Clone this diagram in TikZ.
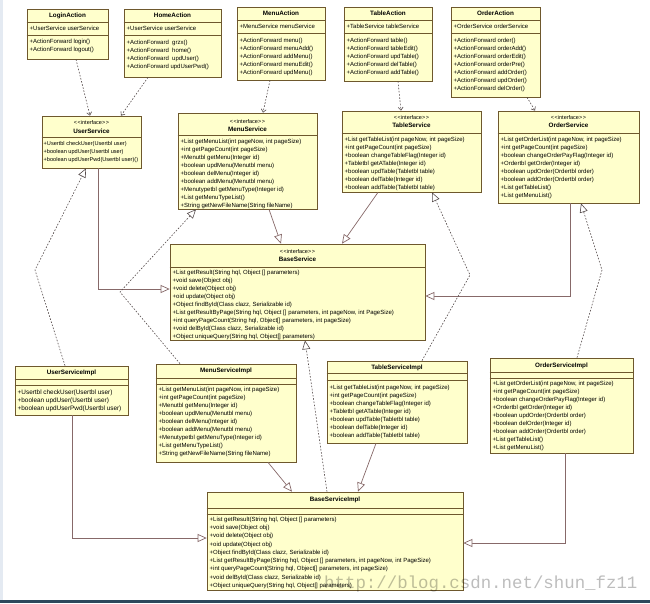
\documentclass[tikz,border=0pt]{standalone}
\usepackage{fontspec}
\setmainfont{Liberation Sans}
\newfontfamily\wmfont{Liberation Mono}
\usetikzlibrary{arrows.meta,fit,shadows}
\definecolor{boxfill}{RGB}{255,255,204}
\definecolor{boxline}{RGB}{110,88,45}
\definecolor{solidcol}{RGB}{135,105,105}
\definecolor{dashcol}{RGB}{85,75,75}
\definecolor{barcol}{RGB}{45,72,92}
\definecolor{stripcol}{RGB}{228,234,242}
\tikzset{
 clsbox/.style={draw=boxline, fill=boxfill, line width=0.7pt, inner sep=0pt,
   drop shadow={shadow xshift=1pt, shadow yshift=-1pt, fill=black!30, opacity=1}},
 sepline/.style={draw=boxline, line width=0.6pt},
 clstitle/.style={font=\fontsize{6.3}{7}\selectfont\bfseries, inner sep=0pt, anchor=center},
 stereo/.style={font=\fontsize{5.5}{6}\selectfont, inner sep=0pt, anchor=center},
 members/.style={font=\fontsize{6}{8}\selectfont, align=left, inner sep=0pt, anchor=north west},
 gen/.style={draw=solidcol, line width=0.7pt, -{Triangle[open, length=9pt, width=8pt, fill=white]}},
 real/.style={draw=dashcol, line width=0.6pt, dash pattern=on 1.6pt off 1.6pt, -{Triangle[open, length=9pt, width=8pt, fill=white]}},
 dep/.style={draw=dashcol, line width=0.6pt, dash pattern=on 1.6pt off 1.6pt, -{Straight Barb[length=3pt, width=5pt]}},
 watermark/.style={font=\wmfont\fontsize{17.4}{18}\selectfont, text=black, text opacity=0.26, inner sep=0pt, anchor=base west},
}
\newcommand{\stq}{<\kern0.6pt<interface>\kern0.6pt>}
\begin{document}
\begin{tikzpicture}[x=1pt, y=-1pt]
\useasboundingbox (0,0) rectangle (650,603);
\fill[white] (0,0) rectangle (650,603);
\fill[stripcol] (0,0) rectangle (3,600);
\fill[barcol] (0,600) rectangle (650,603);

% ---------- class boxes ----------
% Actions
\node[clsbox, fit={(27,9)(108,59)}] (login) {};
\node[clsbox, fit={(124,9)(221,77)}] (home) {};
\node[clsbox, fit={(237,7)(325,80)}] (menua) {};
\node[clsbox, fit={(344,7)(432,81)}] (tablea) {};
\node[clsbox, fit={(451,7)(540,97)}] (ordera) {};
% Services
\node[clsbox, fit={(42,116)(141,168)}] (users) {};
\node[clsbox, fit={(178,113)(317,209)}] (menus) {};
\node[clsbox, fit={(342,111)(481,192)}] (tables) {};
\node[clsbox, fit={(498,111)(639,203)}] (orders) {};
\node[clsbox, fit={(170,244)(425,340)}] (bases) {};
% Implementations
\node[clsbox, fit={(15,366)(128,415)}] (usimpl) {};
\node[clsbox, fit={(156,364)(296,462)}] (msimpl) {};
\node[clsbox, fit={(327,361)(467,443)}] (tsimpl) {};
\node[clsbox, fit={(490,358)(633,453)}] (osimpl) {};
\node[clsbox, fit={(207,492)(463,590)}] (bsimpl) {};

% ---------- separators ----------
\foreach \b/\s in {login/22, login/35, home/22, home/35, menua/20, menua/33, tablea/20, tablea/33, ordera/20, ordera/33,
  users/137, menus/135, tables/133, orders/133, bases/267,
  usimpl/379, usimpl/385, msimpl/378, msimpl/384, tsimpl/373, tsimpl/380, osimpl/372, osimpl/378, bsimpl/508, bsimpl/514}
  \draw[sepline] (\b.west |- 0,\s) -- (\b.east |- 0,\s);

% ---------- titles ----------
\node[clstitle] (login-t) at (login.north |- 0,15.5) {LoginAction};
\node[clstitle] (home-t) at (home.north |- 0,15.5) {HomeAction};
\node[clstitle] (menua-t) at (menua.north |- 0,13.5) {MenuAction};
\node[clstitle] (tablea-t) at (tablea.north |- 0,13.5) {TableAction};
\node[clstitle] (ordera-t) at (ordera.north |- 0,13.5) {OrderAction};

\node[stereo] (users-s) at (users.north |- 0,123) {\stq};
\node[clstitle] (users-t) at (users.north |- 0,131) {UserService};
\node[stereo] (menus-s) at (menus.north |- 0,121.5) {\stq};
\node[clstitle] (menus-t) at (menus.north |- 0,129) {MenuService};
\node[stereo] (tables-s) at (tables.north |- 0,117.5) {\stq};
\node[clstitle] (tables-t) at (tables.north |- 0,125) {TableService};
\node[stereo] (orders-s) at (orders.north |- 0,117.5) {\stq};
\node[clstitle] (orders-t) at (orders.north |- 0,125) {OrderService};
\node[stereo] (bases-s) at (bases.north |- 0,252) {\stq};
\node[clstitle] (bases-t) at (bases.north |- 0,259.5) {BaseService};

\node[clstitle] (usimpl-t) at (usimpl.north |- 0,373) {UserServiceImpl};
\node[clstitle] (msimpl-t) at (msimpl.north |- 0,371) {MenuServiceImpl};
\node[clstitle] (tsimpl-t) at (tsimpl.north |- 0,367.5) {TableServiceImpl};
\node[clstitle] (osimpl-t) at (osimpl.north |- 0,365.5) {OrderServiceImpl};
\node[clstitle] (bsimpl-t) at (bsimpl.north |- 0,500) {BaseServiceImpl};

% ---------- attributes ----------
\node[members] (login-a) at (29.5,26.4) {+UserService userService};
\node[members] (home-a) at (126.5,26.4) {+UserService userService};
\node[members] (menua-a) at (239.5,24.4) {+MenuService menuService};
\node[members] (tablea-a) at (346.5,24.4) {+TableService tableService};
\node[members] (ordera-a) at (453.5,24.4) {+OrderService orderService};

% ---------- methods ----------
\node[members] (login-m) at (29.5,39.4) {+ActionForward login()\\+ActionForward logout()};
\node[members] (home-m) at (126.5,40.4) {+ActionForward\ \ grzx()\\+ActionForward\ \ home()\\+ActionForward\ \ updUser()\\+ActionForward updUserPwd()};
\node[members] (menua-m) at (239.5,38.4) {+ActionForward menu()\\+ActionForward menuAdd()\\+ActionForward addMenu()\\+ActionForward menuEdit()\\+ActionForward updMenu()};
\node[members] (tablea-m) at (346.5,38.4) {+ActionForward table()\\+ActionForward tableEdit()\\+ActionForward updTable()\\+ActionForward delTable()\\+ActionForward addTable()};
\node[members] (ordera-m) at (453.5,38.4) {+ActionForward order()\\+ActionForward orderAdd()\\+ActionForward orderEdit()\\+ActionForward orderPre()\\+ActionForward addOrder()\\+ActionForward updOrder()\\+ActionForward delOrder()};

\node[members, font=\fontsize{5.6}{8}\selectfont] (users-m) at (43.5,141.4) {+Usertbl checkUser(Usertbl user)\\+boolean updUser(Usertbl user)\\+boolean updUserPwd(Usertbl user)()};
\node[members] (menus-m) at (180.5,139.4) {+List getMenuList(int pageNow, int pageSize)\\+int getPageCount(int pageSize)\\+Menutbl getMenu(Integer id)\\+boolean updMenu(Menutbl menu)\\+boolean delMenu(Integer id)\\+boolean addMenu(Menutbl menu)\\+Menutypetbl getMenuType(Integer id)\\+List getMenuTypeList()\\+String getNewFileName(String fileName)};
\node[members] (tables-m) at (344.5,137.4) {+List getTableList(int pageNow, int pageSize)\\+int getPageCount(int pageSize)\\+boolean changeTableFlag(Integer id)\\+Tabletbl getATable(Integer id)\\+boolean updTable(Tabletbl table)\\+boolean delTable(Integer id)\\+boolean addTable(Tabletbl table)};
\node[members] (orders-m) at (500.5,137.4) {+List getOrderList(int pageNow, int pageSize)\\+int getPageCount(int pageSize)\\+boolean changeOrderPayFlag(Integer id)\\+Ordertbl getOrder(Integer id)\\+boolean updOrder(Ordertbl order)\\+boolean addOrder(Ordertbl order)\\+List getTableList()\\+List getMenuList()};
\node[members] (bases-m) at (172.5,270.4) {+List getResult(String hql, Object [] parameters)\\+void save(Object obj)\\+void delete(Object obj)\\+oid update(Object obj)\\+Object findById(Class clazz, Serializable id)\\+List getResultByPage(String hql, Object [] parameters, int pageNow, int PageSize)\\+int queryPageCount(String hql, Object[] parameters, int pageSize)\\+void delById(Class clazz, Serializable id)\\+Object uniqueQuery(String hql, Object[] parameters)};

\node[members, font=\fontsize{6.4}{8}\selectfont] (usimpl-m) at (17.5,389.4) {+Usertbl checkUser(Usertbl user)\\+boolean updUser(Usertbl user)\\+boolean updUserPwd(Usertbl user)};
\node[members] (msimpl-m) at (158.5,387.4) {+List getMenuList(int pageNow, int pageSize)\\+int getPageCount(int pageSize)\\+Menutbl getMenu(Integer id)\\+boolean updMenu(Menutbl menu)\\+boolean delMenu(Integer id)\\+boolean addMenu(Menutbl menu)\\+Menutypetbl getMenuType(Integer id)\\+List getMenuTypeList()\\+String getNewFileName(String fileName)};
\node[members] (tsimpl-m) at (329.5,385.4) {+List getTableList(int pageNow, int pageSize)\\+int getPageCount(int pageSize)\\+boolean changeTableFlag(Integer id)\\+Tabletbl getATable(Integer id)\\+boolean updTable(Tabletbl table)\\+boolean delTable(Integer id)\\+boolean addTable(Tabletbl table)};
\node[members] (osimpl-m) at (492.5,381.4) {+List getOrderList(int pageNow, int pageSize)\\+int getPageCount(int pageSize)\\+boolean changeOrderPayFlag(Integer id)\\+Ordertbl getOrder(Integer id)\\+boolean updOrder(Ordertbl order)\\+boolean delOrder(Integer id)\\+boolean addOrder(Ordertbl order)\\+List getTableList()\\+List getMenuList()};
\node[members, font=\fontsize{6}{8.3}\selectfont] (bsimpl-m) at (209.5,516.6) {+List getResult(String hql, Object [] parameters)\\+void save(Object obj)\\+void delete(Object obj)\\+oid update(Object obj)\\+Object findById(Class clazz, Serializable id)\\+List getResultByPage(String hql, Object [] parameters, int pageNow, int PageSize)\\+int queryPageCount(String hql, Object[] parameters, int pageSize)\\+void delById(Class clazz, Serializable id)\\+Object uniqueQuery(String hql, Object[] parameters)};

% ---------- bend points ----------
\coordinate (bUS) at (35,270);
\coordinate (bMS) at (120,292);
\coordinate (bTS) at (470,275);
\coordinate (bOS) at (602,270);

% ---------- connectors ----------
% dependencies action -> service
\draw[dep] (login.south -| 76,0) -- (users.north -| 90,0);
\draw[dep] (home.south -| 148,0) -- (users.north -| 121,0);
\draw[dep] (menua.south -| 270,0) -- (menus.north -| 263,0);
\draw[dep] (tablea.south -| 398,0) -- (tables.north -| 401,0);
\draw[dep] (ordera.south -| 527,0) -- (orders.north -| 535,0);
% interface generalizations
\draw[gen] (users.south -| 98,0) |- (bases.west |- 0,289);
\draw[gen] (menus.south -| 269,0) -- (bases.north -| 281,0);
\draw[gen] (tables.south -| 378,0) -- (bases.north -| 342,0);
\draw[gen] (orders.south -| 570,0) |- (bases.east |- 0,296);
% realizations
\draw[real] (usimpl.north -| 65,0) -- (bUS) -- (users.south -| 86,0);
\draw[real] (msimpl.north -| 180,0) -- (bMS) -- (menus.south -| 196,0);
\draw[real] (tsimpl.north -| 422,0) -- (bTS) -- (tables.south -| 432,0);
\draw[real] (osimpl.north -| 577,0) -- (bOS) -- (orders.south -| 581,0);
\draw[real] (bsimpl.north -| 327,0) -- (bases.south -| 305,0);
% implementation generalizations
\draw[gen] (usimpl.south -| 72,0) |- (bsimpl.west |- 0,538);
\draw[gen] (msimpl.south -| 268,0) -- (bsimpl.north -| 292,0);
\draw[gen] (tsimpl.south -| 376,0) -- (bsimpl.north -| 358,0);
\draw[gen] (osimpl.south -| 565,0) |- (bsimpl.east |- 0,543);

% ---------- watermark ----------
\node[watermark] (wm) at (324,588) {http://blog.csdn.net/shun\_fz11};
\end{tikzpicture}
\end{document}
